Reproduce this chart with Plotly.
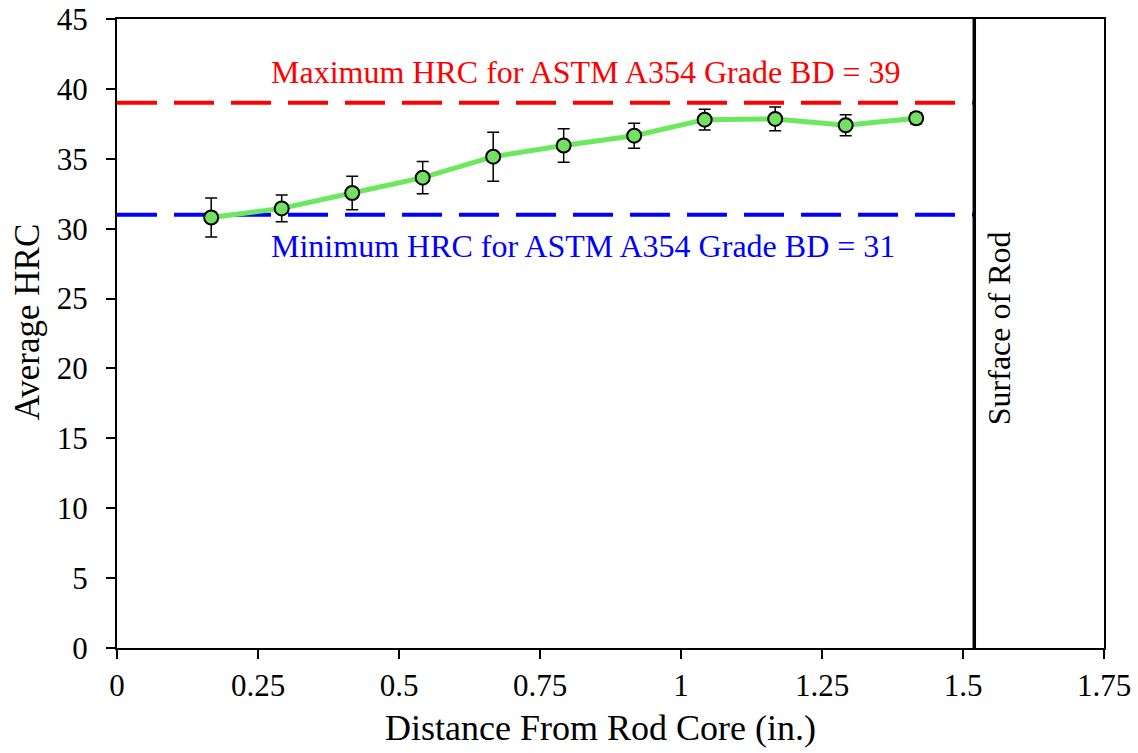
import plotly.graph_objects as go

# Hardness traverse data
distance_in = [0.167, 0.292, 0.417, 0.542, 0.667, 0.792, 0.917, 1.042, 1.167, 1.292, 1.417]
avg_hrc = [30.8, 31.45, 32.55, 33.65, 35.15, 35.95, 36.65, 37.8, 37.85, 37.4, 37.9]
hrc_err = [1.4, 0.95, 1.2, 1.15, 1.75, 1.2, 0.9, 0.75, 0.85, 0.75, 0.4]

# Specification limits and rod surface position
hrc_max = 39
hrc_min = 31
rod_surface = 1.52

x_ticks = [0, 0.25, 0.5, 0.75, 1, 1.25, 1.5, 1.75]
x_tick_text = ["0", "0.25", "0.5", "0.75", "1", "1.25", "1.5", "1.75"]
y_ticks = [0, 5, 10, 15, 20, 25, 30, 35, 40, 45]

FONT = "Liberation Serif, Times New Roman, serif"

fig = go.Figure()

# Spec limit lines (stop at the rod surface)
fig.add_trace(go.Scatter(
    x=[0, rod_surface], y=[hrc_max, hrc_max], mode="lines",
    line=dict(color="#FF0000", width=4, dash="40px,17px"),
    hoverinfo="skip", showlegend=False))
fig.add_trace(go.Scatter(
    x=[0, rod_surface], y=[hrc_min, hrc_min], mode="lines",
    line=dict(color="#0000FF", width=4, dash="40px,17px"),
    hoverinfo="skip", showlegend=False))

# Rod surface
fig.add_trace(go.Scatter(
    x=[rod_surface, rod_surface], y=[0, 45], mode="lines",
    line=dict(color="#000000", width=3.5),
    hoverinfo="skip", showlegend=False))

# Average hardness with error bars
fig.add_trace(go.Scatter(
    x=distance_in, y=avg_hrc, mode="lines+markers",
    line=dict(color="#6BE85E", width=5),
    marker=dict(size=14, color="#74E062", line=dict(color="#000000", width=2)),
    error_y=dict(type="data", array=hrc_err, visible=True,
                 color="#000000", thickness=1.5, width=6),
    showlegend=False))

fig.add_annotation(x=0.269, y=hrc_max, yshift=31, xanchor="left", showarrow=False,
                   text="Maximum HRC for ASTM A354 Grade BD = 39",
                   font=dict(family=FONT, size=32, color="#FF0000"))
fig.add_annotation(x=0.269, y=hrc_min, yshift=-31, xanchor="left", showarrow=False,
                   text="Minimum HRC for ASTM A354 Grade BD = 31",
                   font=dict(family=FONT, size=32, color="#0000FF"))
fig.add_annotation(x=rod_surface, y=22.9, xshift=25, showarrow=False,
                   text="Surface of Rod", textangle=-90,
                   font=dict(family=FONT, size=32, color="#000000"))

# Axis titles
fig.add_annotation(xref="paper", yref="paper", x=0.49, y=-0.127,
                   xanchor="center", yanchor="middle", showarrow=False,
                   text="Distance From Rod Core (in.)",
                   font=dict(family=FONT, size=36, color="#000000"))
fig.add_annotation(xref="paper", yref="paper", x=-0.091, y=0.518,
                   xanchor="center", yanchor="middle", showarrow=False,
                   text="Average HRC", textangle=-90,
                   font=dict(family=FONT, size=35, color="#000000"))

axis_common = dict(
    showgrid=False, zeroline=False, showline=True, linecolor="#000000",
    linewidth=2, mirror=True, ticks="outside", ticklen=9, tickwidth=2,
    tickcolor="#000000", tickfont=dict(family=FONT, size=31, color="#000000"),
    automargin=False,
)

fig.update_layout(
    width=1138, height=753,
    margin=dict(l=117, r=34, t=19, b=105),
    paper_bgcolor="#FFFFFF", plot_bgcolor="#FFFFFF",
    xaxis=dict(range=[0, 1.75], tickvals=x_ticks, ticktext=x_tick_text, **axis_common),
    yaxis=dict(range=[0, 45], tickvals=y_ticks, ticklabelstandoff=12, **axis_common),
)

fig.write_html("out.html")
